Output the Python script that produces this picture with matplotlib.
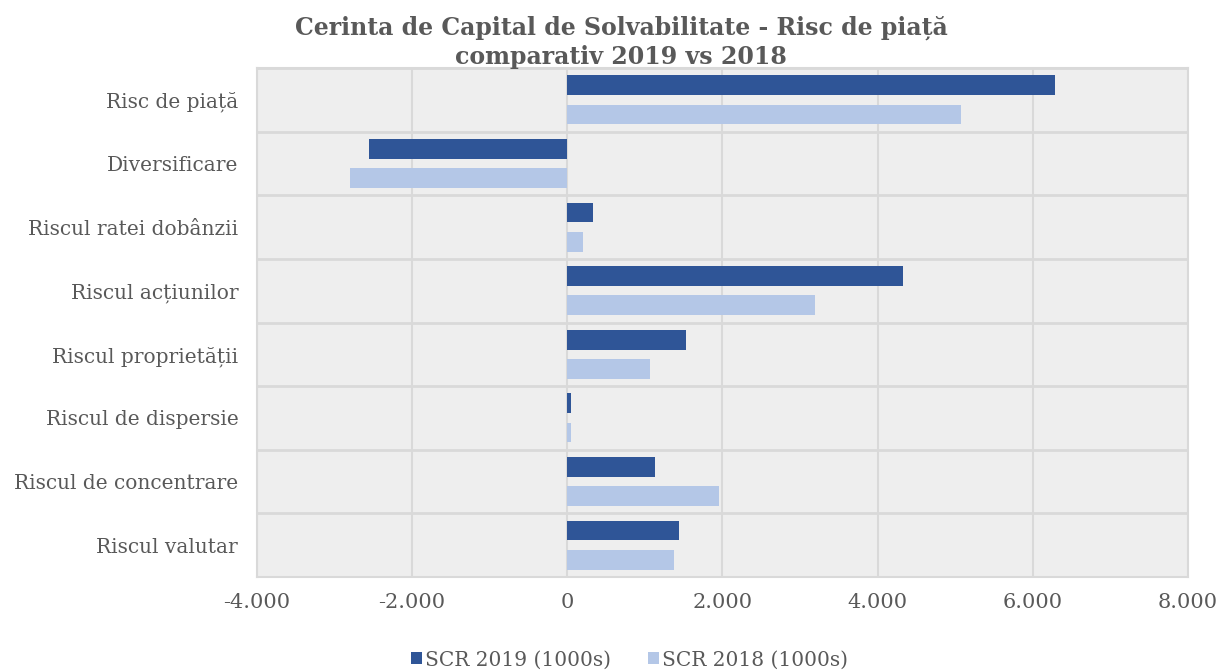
import matplotlib
matplotlib.use("Agg")
import matplotlib.pyplot as plt
import numpy as np

categories = ["Risc de piață", "Diversificare", "Riscul ratei dobânzii", "Riscul acțiunilor",
              "Riscul proprietății", "Riscul de dispersie", "Riscul de concentrare", "Riscul valutar"]
scr2019 = [6290, -2552, 335, 4331, 1534, 50, 1134, 1444]
scr2018 = [5079, -2797, 206, 3197, 1070, 45, 1959, 1379]
xticks = [-4000, -2000, 0, 2000, 4000, 6000, 8000]
xticklabels = ["-4.000", "-2.000", "0", "2.000", "4.000", "6.000", "8.000"]

plt.rcParams['font.family'] = ['DejaVu Serif']
txt = "#595959"
c19 = "#2F5597"
c18 = "#B4C7E7"
grid = "#D9D9D9"

fig = plt.figure(figsize=(12.2, 6.71), dpi=100)
ax = fig.add_axes([257/1220, 1-577/671, (1188-257)/1220, (577-68)/671])
ax.set_facecolor("#EEEEEE")

n = len(categories)
y = np.arange(n)
h = 0.31
off = 0.23
ax.barh(y - off, scr2019, height=h, color=c19, label="SCR 2019 (1000s)", zorder=3)
ax.barh(y + off, scr2018, height=h, color=c18, label="SCR 2018 (1000s)", zorder=3)

ax.set_ylim(n - 0.5, -0.5)
ax.set_xlim(-4000, 8000)
ax.set_yticks(y)
ax.set_yticklabels(categories, fontsize=14.5, color=txt)
ax.set_xticks(xticks)
ax.set_xticklabels(xticklabels, fontsize=15, color=txt)
ax.tick_params(axis='both', length=0)
ax.tick_params(axis='x', pad=11.5)
ax.tick_params(axis='y', pad=13.5)

for xv in xticks:
    ax.axvline(xv, color=grid, lw=1.5, zorder=1)
for yb in np.arange(-0.5, n, 1.0):
    ax.axhline(yb, color=grid, lw=2, zorder=1)
for s in ax.spines.values():
    s.set_color(grid)
    s.set_linewidth(1.5)

fig.text(0.509, 1-28/671, "Cerinta de Capital de Solvabilitate - Risc de piață",
         ha='center', va='center', fontsize=17, fontweight='bold', color=txt)
fig.text(0.509, 1-57/671, "comparativ 2019 vs 2018",
         ha='center', va='center', fontsize=17, fontweight='bold', color=txt)

leg = fig.legend(loc='center', bbox_to_anchor=(0.516, 1-660/671), ncol=2, frameon=False,
                 fontsize=14.5, handlelength=0.55, handleheight=0.55, handletextpad=0.15,
                 columnspacing=1.8)
for t in leg.get_texts():
    t.set_color(txt)

fig.savefig("out.png", dpi=100)
